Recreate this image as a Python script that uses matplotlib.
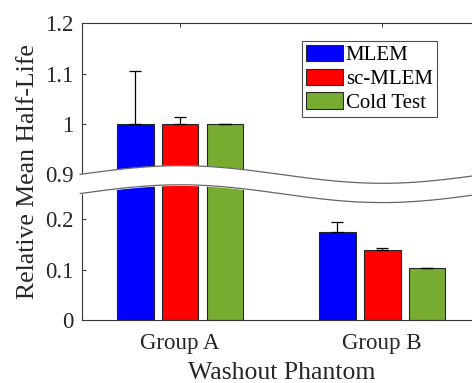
import matplotlib
matplotlib.use("Agg")
import matplotlib.pyplot as plt
import numpy as np

# values
groups = ["Group A", "Group B"]
series = ["MLEM", "sc-MLEM", "Cold Test"]
mlem = [1.0, 0.175]
sc_mlem = [1.0, 0.139]
cold = [1.0, 0.103]
mlem_err = [0.106, 0.020]
sc_mlem_err = [0.013, 0.004]
cold_err = [0.0, 0.0]
colors = ["#0000ff", "#ff0000", "#77ac30"]
yticks = [0, 0.1, 0.2, 0.9, 1, 1.1, 1.2]
yticklabels = ["0", "0.1", "0.2", "0.9", "1", "1.1", "1.2"]

# y axis break (values between lo and hi are cut out)
lo, hi = 0.25, 0.86
gap = hi - lo


def fwd(y):
    y = np.asarray(y, dtype=float)
    return np.where(y <= lo, y, np.where(y >= hi, y - gap, lo))


def inv(y):
    y = np.asarray(y, dtype=float)
    return np.where(y <= lo, y, y + gap)


plt.rcParams["font.family"] = ["Liberation Serif", "DejaVu Serif"]

fig = plt.figure(figsize=(4.72, 3.83), dpi=100)
ax = fig.add_axes([82 / 472, 63 / 383, 398.5 / 472, 296.7 / 383])
ax.set_yscale("function", functions=(fwd, inv))

x = np.arange(1, len(groups) + 1)
width = 0.181
step = 0.222
vals = [mlem, sc_mlem, cold]
errs = [mlem_err, sc_mlem_err, cold_err]
bars = []
for i in range(3):
    pos = x + (i - 1) * step
    b = ax.bar(pos, vals[i], width, color=colors[i], edgecolor="0.15",
               linewidth=0.8, label=series[i], zorder=2)
    bars.append(b)
    ax.errorbar(pos, vals[i], yerr=[np.zeros(len(groups)), errs[i]], fmt="none",
                ecolor="k", elinewidth=0.9, capsize=4.6, capthick=0.9, zorder=3)

ax.set_xlim(0.514, 2.486)
ax.set_ylim(0, 1.2)
ax.set_yticks(yticks)
ax.set_yticklabels(yticklabels)
ax.minorticks_off()
ax.set_xticks(x)
ax.set_xticklabels(groups)
ax.tick_params(direction="in", length=3, width=0.7, color="0.2",
               labelsize=16.5, top=True, pad=6)
ax.tick_params(axis="x", pad=9)
for s in ax.spines.values():
    s.set_color("0.2")
    s.set_linewidth(0.8)

ax.set_xlabel("Washout Phantom", fontsize=18.5, color="0.15", labelpad=6)
ax.set_ylabel("Relative Mean Half-Life", fontsize=18.5, color="0.15", labelpad=4)
for t in ax.get_xticklabels() + ax.get_yticklabels():
    t.set_color("0.15")

# wavy break band
wx = np.linspace(0.505, 2.486, 300)
wave = np.cos(np.pi * (wx - 1))
top = 0.4904 + 0.0297 * wave
bot = 0.4257 + 0.0300 * wave
tr = ax.get_xaxis_transform()
ax.fill_between(wx, bot, top, transform=tr, color="white", zorder=5, clip_on=False)
ax.plot(wx, top, transform=tr, color="0.4", lw=0.9, zorder=6, clip_on=False)
ax.plot(wx, bot, transform=tr, color="0.4", lw=0.9, zorder=6, clip_on=False)

leg = ax.legend(loc="upper left", bbox_to_anchor=(302 / 472, 1 - 40.7 / 383),
                bbox_transform=fig.transFigure, fontsize=15, frameon=True,
                fancybox=False, framealpha=1, borderpad=0.2, borderaxespad=0,
                handlelength=1.75, handleheight=0.85, handletextpad=0.15,
                labelspacing=0.15)
leg.get_frame().set_edgecolor("0.3")
leg.get_frame().set_linewidth(0.8)
leg.set_zorder(10)

fig.savefig("out.png", dpi=100)
